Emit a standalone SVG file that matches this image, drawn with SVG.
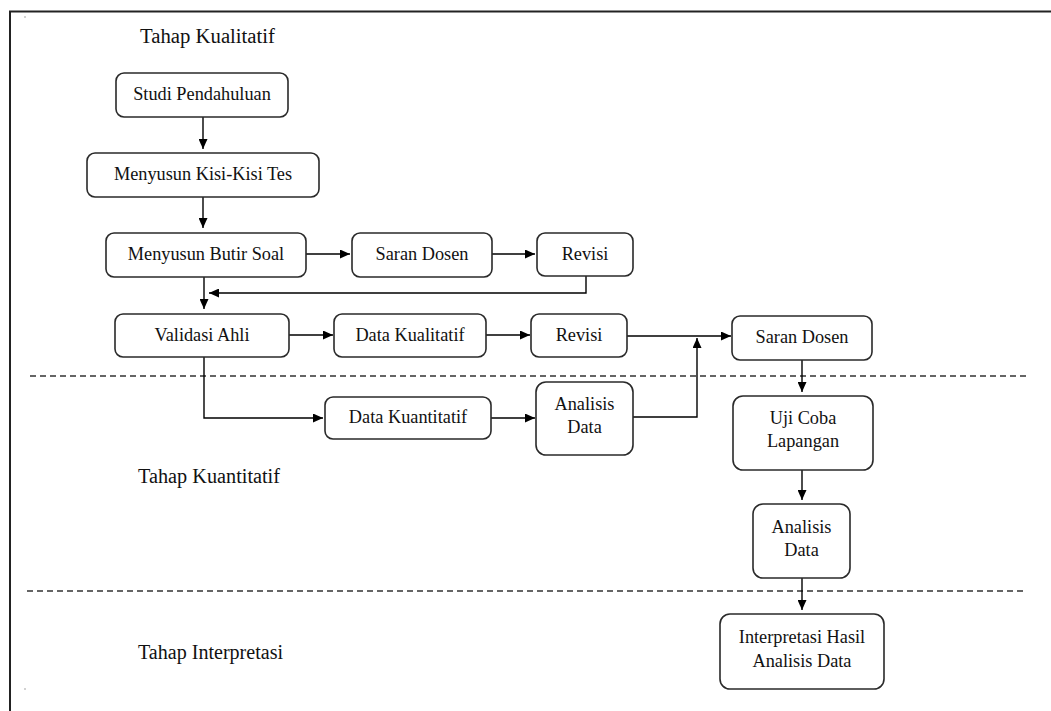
<svg xmlns="http://www.w3.org/2000/svg" width="1051" height="711" viewBox="0 0 1051 711">
<style>
.box{fill:#fff;stroke:#2a2a2a;stroke-width:1.6}
.t{font-family:'Liberation Serif','DejaVu Serif',serif;font-size:18.3px;fill:#111;text-anchor:middle}
.title{font-family:'Liberation Serif','DejaVu Serif',serif;font-size:20px;fill:#111}
.c{fill:none;stroke:#000;stroke-width:1.4}
.dash{fill:none;stroke:#333;stroke-width:1.3;stroke-dasharray:6 4}
.frame{fill:none;stroke:#222;stroke-width:2}
</style>
<defs>
<marker id="ah" markerUnits="userSpaceOnUse" markerWidth="10" markerHeight="9" refX="10" refY="4.5" orient="auto">
<path d="M0,0 L10,4.5 L0,9 z" fill="#000"/>
</marker>
</defs>
<rect width="1051" height="711" fill="#fff"/>
<g id="frame">
<path class="frame" d="M10,711 V11.5 H1051"/>
<circle cx="25" cy="17" r="0.8" fill="#999"/>
<circle cx="25" cy="689" r="0.8" fill="#999"/>
</g>
<g id="separators">
<line class="dash" x1="30" y1="376" x2="1028" y2="376"/>
<line class="dash" x1="27" y1="591" x2="1026" y2="591"/>
</g>
<g id="stage-labels">
<text class="title" x="140" y="43" textLength="135" lengthAdjust="spacingAndGlyphs">Tahap Kualitatif</text>
<text class="title" x="138" y="483" textLength="142" lengthAdjust="spacingAndGlyphs">Tahap Kuantitatif</text>
<text class="title" x="138" y="659" textLength="145" lengthAdjust="spacingAndGlyphs">Tahap Interpretasi</text>
</g>
<g id="connectors">
<line class="c" x1="203" y1="117" x2="203" y2="149" marker-end="url(#ah)"/>
<line class="c" x1="203" y1="197" x2="203" y2="228" marker-end="url(#ah)"/>
<line class="c" x1="204" y1="277" x2="204" y2="309" marker-end="url(#ah)"/>
<line class="c" x1="306" y1="254" x2="350" y2="254" marker-end="url(#ah)"/>
<line class="c" x1="492" y1="254" x2="535" y2="254" marker-end="url(#ah)"/>
<polyline class="c" points="586,276 586,293 209,293" marker-end="url(#ah)"/>
<line class="c" x1="289" y1="335" x2="333" y2="335" marker-end="url(#ah)"/>
<line class="c" x1="486" y1="335" x2="530" y2="335" marker-end="url(#ah)"/>
<line class="c" x1="627" y1="336" x2="731" y2="336" marker-end="url(#ah)"/>
<polyline class="c" points="204,357 204,418 323,418" marker-end="url(#ah)"/>
<line class="c" x1="491" y1="418" x2="535" y2="418" marker-end="url(#ah)"/>
<polyline class="c" points="633,417 697,417 697,338" marker-end="url(#ah)"/>
<line class="c" x1="802" y1="360" x2="802" y2="392" marker-end="url(#ah)"/>
<line class="c" x1="802" y1="470" x2="802" y2="500" marker-end="url(#ah)"/>
<line class="c" x1="802" y1="578" x2="802" y2="610" marker-end="url(#ah)"/>
</g>
<g id="studi-pendahuluan">
<rect class="box" x="116" y="73" width="172" height="44" rx="8"/>
<text class="t" x="202" y="100">Studi Pendahuluan</text>
</g>
<g id="menyusun-kisi">
<rect class="box" x="87" y="153" width="232" height="44" rx="8"/>
<text class="t" x="203" y="180">Menyusun Kisi-Kisi Tes</text>
</g>
<g id="menyusun-butir">
<rect class="box" x="106" y="233" width="200" height="44" rx="8"/>
<text class="t" x="206" y="260">Menyusun Butir Soal</text>
</g>
<g id="saran-dosen-1">
<rect class="box" x="352" y="233" width="140" height="44" rx="8"/>
<text class="t" x="422" y="260">Saran Dosen</text>
</g>
<g id="revisi-1">
<rect class="box" x="537" y="233" width="96" height="43" rx="8"/>
<text class="t" x="585" y="260">Revisi</text>
</g>
<g id="validasi-ahli">
<rect class="box" x="115" y="314" width="174" height="43" rx="8"/>
<text class="t" x="202" y="341">Validasi Ahli</text>
</g>
<g id="data-kualitatif">
<rect class="box" x="334" y="314" width="152" height="43" rx="8"/>
<text class="t" x="410" y="341">Data Kualitatif</text>
</g>
<g id="revisi-2">
<rect class="box" x="531" y="314" width="96" height="43" rx="8"/>
<text class="t" x="579" y="341">Revisi</text>
</g>
<g id="saran-dosen-2">
<rect class="box" x="732" y="316" width="140" height="44" rx="8"/>
<text class="t" x="802" y="343">Saran Dosen</text>
</g>
<g id="data-kuantitatif">
<rect class="box" x="325" y="397" width="166" height="42" rx="8"/>
<text class="t" x="408" y="423">Data Kuantitatif</text>
</g>
<g id="analisis-data-1">
<rect class="box" x="536" y="382" width="97" height="73" rx="10"/>
<text class="t" x="584.5" y="410">Analisis</text>
<text class="t" x="584.5" y="433">Data</text>
</g>
<g id="uji-coba">
<rect class="box" x="733" y="396" width="140" height="74" rx="10"/>
<text class="t" x="803" y="424">Uji Coba</text>
<text class="t" x="803" y="447">Lapangan</text>
</g>
<g id="analisis-data-2">
<rect class="box" x="753" y="504" width="97" height="74" rx="10"/>
<text class="t" x="801.5" y="533">Analisis</text>
<text class="t" x="801.5" y="556">Data</text>
</g>
<g id="interpretasi">
<rect class="box" x="720" y="614" width="164" height="75" rx="10"/>
<text class="t" x="802" y="643">Interpretasi Hasil</text>
<text class="t" x="802" y="667">Analisis Data</text>
</g>
</svg>
